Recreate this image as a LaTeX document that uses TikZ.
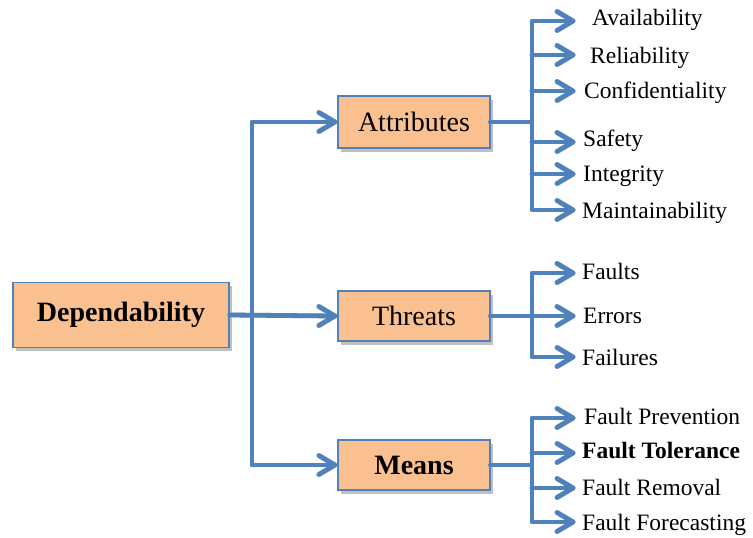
\documentclass[tikz,border=0pt]{standalone}
\usepackage{fontspec}
\setmainfont{Liberation Serif}
\usetikzlibrary{shadows,backgrounds}
\definecolor{linkblue}{HTML}{4F81BD}
\definecolor{boxfill}{HTML}{FAC08F}
\definecolor{shade}{HTML}{C0C0C0}

% open chevron head whose point sits on coordinate #2
\newcommand\chev[2]{\draw[#1] (#2) ++(-16,-9.5) -- (#2) -- ++(-16,9.5);}

% all connectors of the tree; #1 is the drawing style
\newcommand\drawwires[1]{%
  \draw[#1] (dep.east) -- (tT); \chev{#1}{tT}
  \draw[#1] (trunk) |- (tA); \chev{#1}{tA}
  \draw[#1] (trunk) |- (tM); \chev{#1}{tM}
  % Attributes
  \draw[#1] (att.east) -| (sA1) -- (eA1);
  \draw[#1] (att.east) -| (sA6) -- (eA6);
  \foreach \i in {2,...,5} {\draw[#1] (sA\i) -- (eA\i);}
  \foreach \i in {1,...,6} {\chev{#1}{eA\i}}
  % Threats
  \draw[#1] (thr.east) -| (sT1) -- (eT1);
  \draw[#1] (thr.east) -| (sT3) -- (eT3);
  \draw[#1] (sT2) -- (eT2);
  \foreach \i in {1,2,3} {\chev{#1}{eT\i}}
  % Means
  \draw[#1] (mea.east) -| (sM1) -- (eM1);
  \draw[#1] (mea.east) -| (sM4) -- (eM4);
  \foreach \i in {2,3} {\draw[#1] (sM\i) -- (eM\i);}
  \foreach \i in {1,...,4} {\chev{#1}{eM\i}}
}

\begin{document}
\begin{tikzpicture}[x=1pt,y=-1pt,
  box/.style={draw=linkblue, line width=1.2pt, fill=boxfill,
    minimum width=152pt, minimum height=50pt, inner sep=0pt,
    font=\fontsize{28}{30}\selectfont,
    drop shadow={shadow xshift=2.5pt, shadow yshift=-3.5pt, fill=shade, opacity=1}},
  leaf/.style={anchor=base west, inner sep=0pt, font=\fontsize{23.5}{25}\selectfont},
  wire/.style={draw=linkblue, line width=4.8pt, line cap=round, line join=round},
  wireshade/.style={draw=shade, line width=4.8pt, line cap=round, line join=round, shift={(3,3)}},
]
\useasboundingbox (0,0) rectangle (753,538);

% main boxes
\node[box, minimum width=216pt, minimum height=65pt] (dep) at (121,315) {\bfseries Dependability};
\node[box, minimum height=52pt] (att) at (414,122) {Attributes};
\node[box] (thr) at (414,316) {Threats};
\node[box] (mea) at (414,465) {\bfseries Means};

\coordinate (trunk) at (252,315);
\coordinate (tA) at ([xshift=-2.5pt]att.west);
\coordinate (tT) at ([xshift=-2.5pt]thr.west);
\coordinate (tM) at ([xshift=-2.5pt]mea.west);

% branch points and arrow points
\foreach \y [count=\i] in {21,55,91,142,174,210} {
  \coordinate (sA\i) at (532,\y);
  \coordinate (eA\i) at (573,\y);
}
\foreach \y [count=\i] in {273,316,357} {
  \coordinate (sT\i) at (532,\y);
  \coordinate (eT\i) at (573,\y);
}
\foreach \y [count=\i] in {418,453,488,522} {
  \coordinate (sM\i) at (532,\y);
  \coordinate (eM\i) at (573,\y);
}

% leaf labels
\node[leaf] (lA1) at (592,25) {Availability};
\node[leaf] (lA2) at (590,63) {Reliability};
\node[leaf] (lA3) at (584,98) {Confidentiality};
\node[leaf] (lA4) at (583,146) {Safety};
\node[leaf] (lA5) at (583,181) {Integrity};
\node[leaf] (lA6) at (582,218) {Maintainability};
\node[leaf] (lT1) at (582,279) {Faults};
\node[leaf] (lT2) at (583,323) {Errors};
\node[leaf] (lT3) at (582,365) {Failures};
\node[leaf] (lM1) at (584,424) {Fault Prevention};
\node[leaf] (lM2) at (582,458) {\bfseries Fault Tolerance};
\node[leaf] (lM3) at (582,495) {Fault Removal};
\node[leaf] (lM4) at (582,530) {Fault Forecasting};

\begin{scope}[on background layer]
  \drawwires{wireshade}
\end{scope}
\drawwires{wire}
\end{tikzpicture}
\end{document}
